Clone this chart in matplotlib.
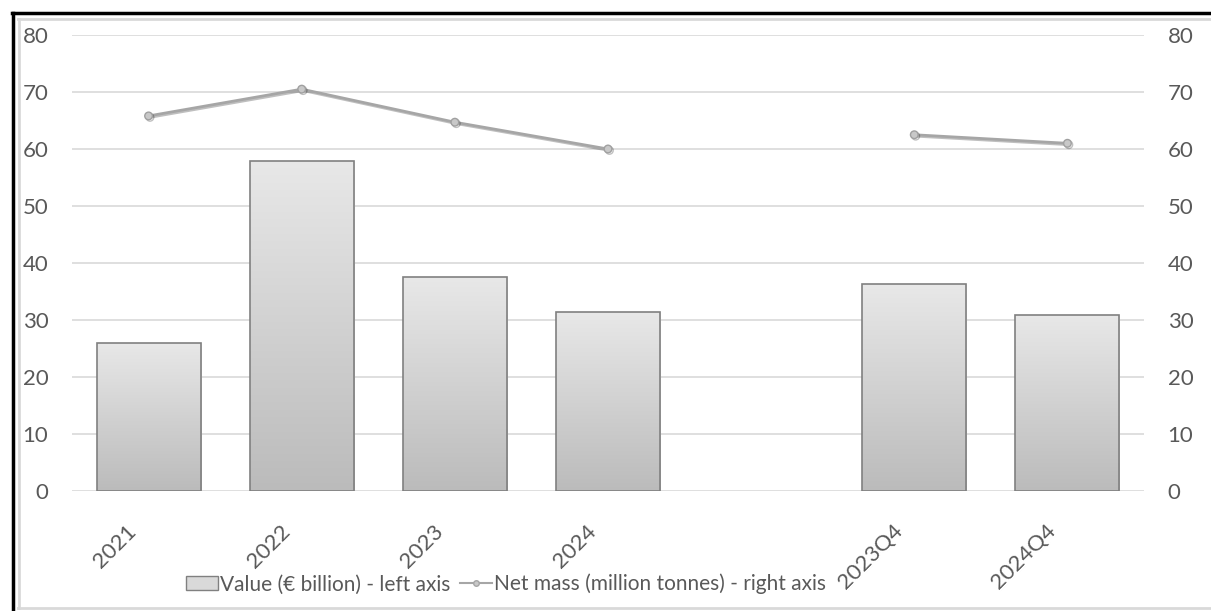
import matplotlib.pyplot as plt
import matplotlib.patheffects as pe
import matplotlib.transforms as mtransforms
from matplotlib.lines import Line2D
from matplotlib.patches import Patch
import numpy as np

# Data
categories = ['2021', '2022', '2023', '2024', '', '2023Q4', '2024Q4']
value_bn = [26.0, 57.9, 37.5, 31.4, np.nan, 36.3, 30.9]
net_mass_mt = [65.8, 70.5, 64.7, 60.0, np.nan, 62.5, 61.0]

plt.rcParams['font.family'] = ['Lato', 'DejaVu Sans']
text_grey = '#595959'

fig = plt.figure(figsize=(12.11, 6.11), dpi=100)
ax = fig.add_axes([72 / 1211, 0.1964, 1072 / 1211, 0.7463])
ax2 = ax.twinx()

x = np.arange(len(categories))
bars = ax.bar(x, value_bn, width=0.68, color='none', edgecolor='#808080',
              linewidth=1.2, zorder=3)

# vertical grey gradient in each bar (light at top, darker at bottom)
grad = np.linspace(0, 1, 256).reshape(-1, 1)
cmap = plt.matplotlib.colors.LinearSegmentedColormap.from_list('g', ['#e8e8e8', '#bbbbbb'])
for b, v in zip(bars, value_bn):
    if np.isnan(v):
        continue
    x0 = b.get_x()
    im = ax.imshow(grad, cmap=cmap, aspect='auto', origin='upper',
                   extent=[x0, x0 + b.get_width(), 0, v], zorder=2)
    im.set_clip_path(b)

ax.set_xlim(-0.5, len(categories) - 0.5)
ax.set_ylim(0, 80)
ax.set_yticks(range(0, 81, 10))
ax.grid(axis='y', color='#d9d9d9', linewidth=1.2, zorder=0)
ax.set_axisbelow(True)

ax2.plot(x, net_mass_mt, color='#a6a6a6', linewidth=2, marker='o', markersize=5.5,
         markerfacecolor='#c8c8c8', markeredgecolor='#a0a0a0', zorder=4,
         path_effects=[pe.SimpleLineShadow(offset=(1, -1), alpha=0.25), pe.Normal()])
ax2.set_ylim(0, 80)
ax2.set_yticks(range(0, 81, 10))

for a in (ax, ax2):
    for s in a.spines.values():
        s.set_visible(False)
    a.tick_params(length=0, labelsize=16, labelcolor=text_grey)

ax.tick_params(axis='y', pad=17)
ax2.tick_params(axis='y', pad=17)
ax.set_xticks(x)
ax.set_xticklabels(categories, rotation=45, ha='right', rotation_mode='anchor')
ax.tick_params(axis='x', pad=10)
shift = mtransforms.ScaledTranslation(-22 / 100, -16 / 100, fig.dpi_scale_trans)
for lbl in ax.get_xticklabels():
    lbl.set_transform(lbl.get_transform() + shift)

handles = [Patch(facecolor='#d9d9d9', edgecolor='#808080', label='Value (€ billion) - left axis'),
           Line2D([], [], color='#a6a6a6', marker='o', markersize=4,
                  markerfacecolor='#c8c8c8', label='Net mass (million tonnes) - right axis')]
fig.legend(handles=handles, loc='center', bbox_to_anchor=(506 / 1211, 0.044), ncol=2,
           frameon=False, fontsize=15, labelcolor=text_grey, handlelength=1.5,
           handletextpad=0.1, columnspacing=0.5)

# frame around the cropped chart
W, H = 1211, 611
fig.add_artist(Line2D([12 / W, 1], [1 - 13 / H, 1 - 13 / H], color='black', linewidth=2.5))
fig.add_artist(Line2D([13 / W, 13 / W], [0, 1 - 13 / H], color='black', linewidth=2.5))
fig.add_artist(Line2D([18 / W, 1], [1 - 19 / H, 1 - 19 / H], color='#d9d9d9', linewidth=2))
fig.add_artist(Line2D([19 / W, 19 / W], [3 / H, 1 - 19 / H], color='#d9d9d9', linewidth=2))
fig.add_artist(Line2D([18 / W, 1], [3 / H, 3 / H], color='#d9d9d9', linewidth=2))

fig.savefig('out.png', dpi=100)
